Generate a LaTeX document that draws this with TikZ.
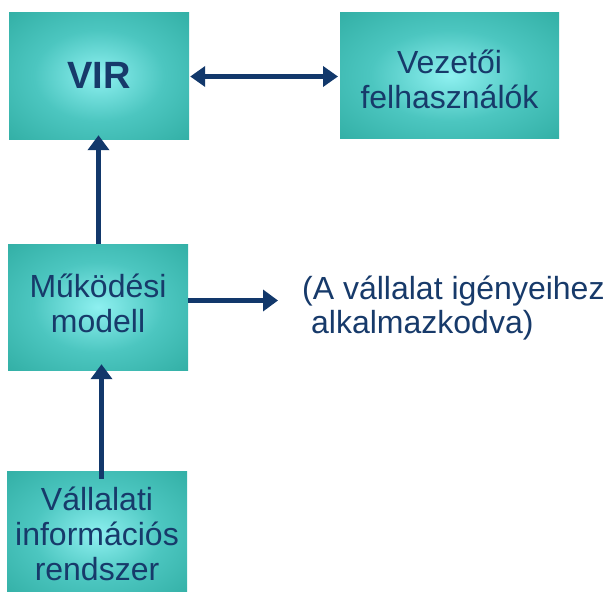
\documentclass[tikz,border=0pt]{standalone}
\usepackage{fontspec}
\setmainfont{Liberation Sans}
\usetikzlibrary{arrows.meta}
\definecolor{glowc}{HTML}{8EF0F0}
\definecolor{glowm}{HTML}{4CC6C0}
\definecolor{glowe}{HTML}{1E9D90}
\definecolor{glowd}{HTML}{168A80}
\definecolor{inkblue}{HTML}{173A6A}
\definecolor{arrowblue}{HTML}{12386B}
\pgfdeclareradialshading{boxglow}{\pgfpoint{0bp}{0bp}}{color(0bp)=(glowc); color(18bp)=(glowm); color(50bp)=(glowe); color(72bp)=(glowd)}
\tikzset{
  tealbox/.style={shading=boxglow, inner sep=0pt, align=center, text=inkblue,
    font=\fontsize{32}{35}\selectfont},
  flow/.style={draw=arrowblue, line width=5pt,
    -{Triangle[width=21pt,length=15pt]}},
  flowboth/.style={draw=arrowblue, line width=5pt,
    {Triangle[width=20pt,length=15pt]}-{Triangle[width=20pt,length=15pt]}}
}
\begin{document}
\begin{tikzpicture}[x=1pt,y=-1pt]
\useasboundingbox (0,0) rectangle (606,592);
\begin{scope}
\clip (0,0) rectangle (606,592);
\node[tealbox, minimum width=180pt, minimum height=127pt,
  font=\fontsize{38}{44}\selectfont\bfseries] (vir) at (99,75.5) {VIR};
\node[tealbox, minimum width=219pt, minimum height=126pt] (vez) at (449.5,75.5)
  {\raisebox{-4pt}[\height][\depth]{\parbox{219pt}{\centering Vezetői\\felhasználók}}};
\node[tealbox, minimum width=180pt, minimum height=126pt] (muk) at (98,307)
  {\raisebox{4pt}[\height][\depth]{\parbox{180pt}{\centering Működési\\modell}}};
\node[tealbox, minimum width=180pt, minimum height=126pt] (val) at (97,534)
  {Vállalati\\információs\\rendszer};
\node[anchor=west, align=left, text=inkblue, inner sep=0pt,
  font=\fontsize{32}{34}\selectfont] (note) at (302,308)
  {(A vállalat igényeihez\\\hspace*{9pt}alkalmazkodva)};
\coordinate (noteend) at (278,300.5);
\coordinate (vezend) at (338,76.5);
\draw[flowboth] (vir.east |- vezend) ++(1,0) coordinate (l) -- (vezend);
\draw[flow] (muk.north -| 98.5,0) -- ([yshift=4pt]vir.south -| 98.5,0);
\draw[flow] ([yshift=-8pt]val.north -| 101.5,0) -- ([yshift=6pt]muk.south -| 101.5,0);
\draw[flow] (muk.east |- noteend) -- (noteend);
\end{scope}
\end{tikzpicture}
\end{document}
